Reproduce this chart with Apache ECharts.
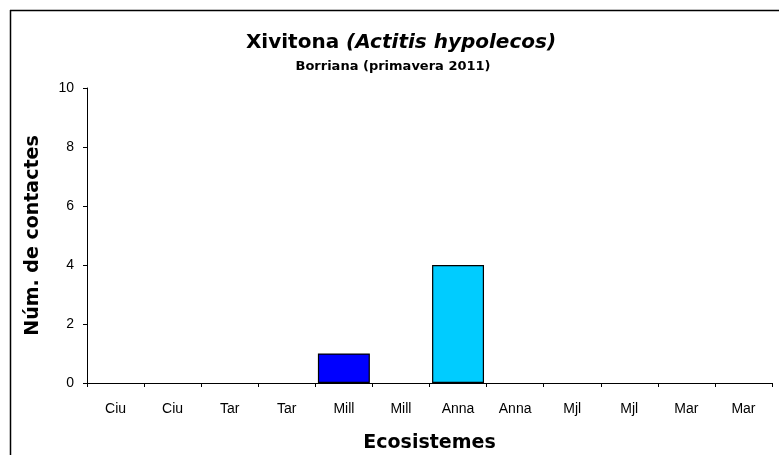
<!DOCTYPE html>
<html>
<head>
<meta charset="utf-8">
<script src="https://cdn.jsdelivr.net/npm/echarts@6/dist/echarts.min.js"></script>
<style>
  html, body { margin: 0; padding: 0; background: #fff; }
  #mybox { width: 779px; height: 455px; }
</style>
</head>
<body>
<div id="mybox"></div>
<script>
// dades
var categories = ['Ciu', 'Ciu', 'Tar', 'Tar', 'Mill', 'Mill', 'Anna', 'Anna', 'Mjl', 'Mjl', 'Mar', 'Mar'];
var contactes = [0, 0, 0, 0, 1, 0, 4, 0, 0, 0, 0, 0];
var colors = ['#0000ff', '#0000ff', '#0000ff', '#0000ff', '#0000ff', '#0000ff', '#00ccff', '#00ccff', '#0000ff', '#0000ff', '#0000ff', '#0000ff'];
var yTicks = [0, 2, 4, 6, 8, 10];

var font = '"DejaVu Sans", "Liberation Sans", Arial, sans-serif';
var fontTicks = '"Liberation Sans", Arial, sans-serif';
var mycharts = echarts.init(document.getElementById('mybox'));

// barres amb zero no dibuixen vora
var seriesData = contactes.map(function (v, i) {
    return { value: v, itemStyle: { color: colors[i], borderWidth: v > 0 ? 1.2 : 0 } };
});

var option = {
    animation: false,
    backgroundColor: '#fff',
    title: [{
        text: '{a|Xivitona }{b|(Actitis hypolecos)}',
        left: 396,
        top: 28,
        textAlign: 'center',
        textStyle: {
            rich: {
                a: { fontFamily: font, fontSize: 20, fontWeight: 'bold', color: '#000' },
                b: { fontFamily: font, fontSize: 20, fontWeight: 'bold', fontStyle: 'italic', color: '#000' }
            }
        }
    }, {
        text: 'Borriana (primavera 2011)',
        left: 388,
        top: 55,
        textAlign: 'center',
        textStyle: { fontFamily: font, fontSize: 13, fontWeight: 'bold', color: '#000' }
    }],
    graphic: [
        { type: 'line', shape: { x1: 10, y1: 10.5, x2: 779, y2: 10.5 }, style: { stroke: '#000', lineWidth: 1.5 } },
        { type: 'line', shape: { x1: 10.5, y1: 10, x2: 10.5, y2: 455 }, style: { stroke: '#000', lineWidth: 1.5 } }
    ],
    grid: { left: 87, right: 7, top: 88, bottom: 72, containLabel: false, outerBoundsMode: 'none' },
    xAxis: {
        type: 'category',
        data: categories,
        name: 'Ecosistemes',
        nameLocation: 'middle',
        nameGap: 51,
        nameTextStyle: { fontFamily: font, fontSize: 19, fontWeight: 'bold', color: '#000', verticalAlign: 'top' },
        axisLine: { lineStyle: { color: '#000', width: 1 } },
        axisTick: { show: true, length: 4, alignWithLabel: false, lineStyle: { color: '#000' } },
        axisLabel: { fontFamily: fontTicks, fontSize: 14, color: '#000', margin: 19, interval: 0 }
    },
    yAxis: {
        type: 'value',
        min: 0,
        max: 10,
        interval: 2,
        name: 'Núm. de contactes',
        nameLocation: 'middle',
        nameGap: 44,
        nameTextStyle: { fontFamily: font, fontSize: 19, fontWeight: 'bold', color: '#000' },
        axisLine: { show: true, lineStyle: { color: '#000', width: 1 } },
        axisTick: { show: true, length: 4, lineStyle: { color: '#000' } },
        splitLine: { show: false },
        axisLabel: {
            fontFamily: fontTicks, fontSize: 14, color: '#000', margin: 13,
            formatter: function (v) { return yTicks.indexOf(v) >= 0 ? String(v) : ''; }
        }
    },
    series: [{
        name: 'Contactes',
        type: 'bar',
        data: seriesData,
        barCategoryGap: '9%',
        itemStyle: { borderColor: '#000' }
    }]
};
mycharts.setOption(option);
</script>
</body>
</html>
